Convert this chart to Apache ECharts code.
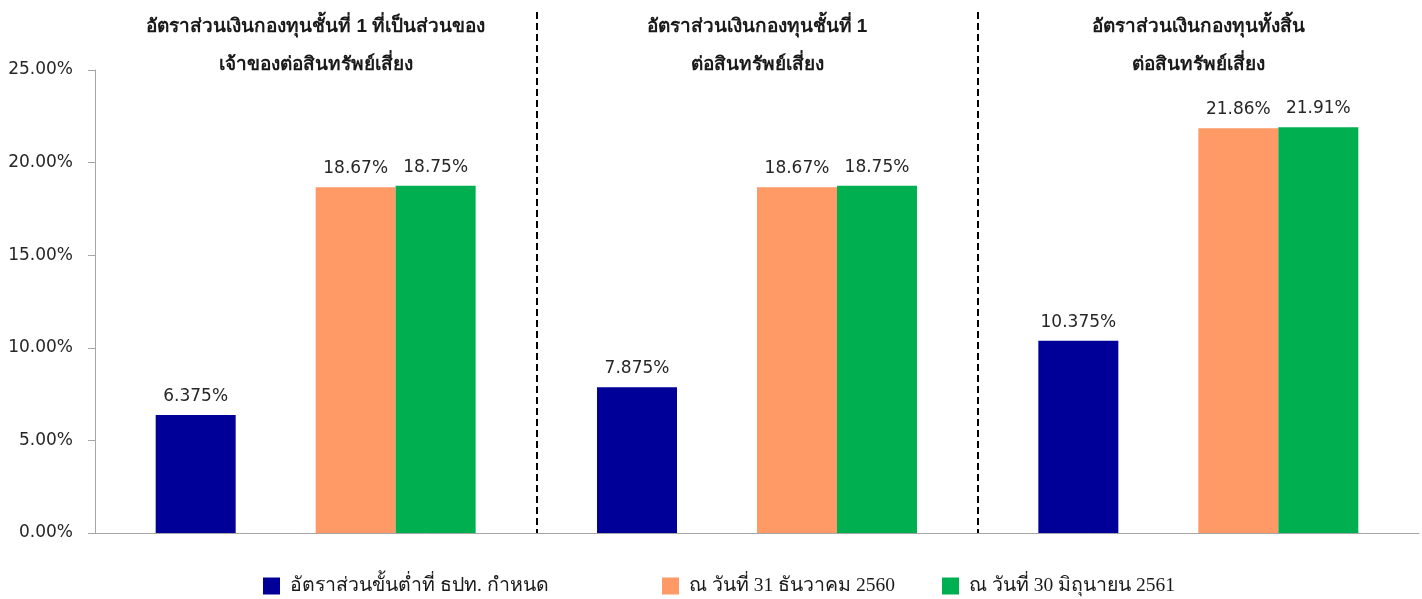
<!DOCTYPE html>
<html>
<head>
<meta charset="utf-8">
<script src="https://cdn.jsdelivr.net/npm/echarts@6/dist/echarts.min.js"></script>
<style>html,body{margin:0;padding:0;background:#fff}#c{width:1422px;height:599px}</style>
</head>
<body>
<div id="c"></div>
<script>
const categories = [
  'อัตราส่วนเงินกองทุนชั้นที่ 1 ที่เป็นส่วนของ\nเจ้าของต่อสินทรัพย์เสี่ยง',
  'อัตราส่วนเงินกองทุนชั้นที่ 1\nต่อสินทรัพย์เสี่ยง',
  'อัตราส่วนเงินกองทุนทั้งสิ้น\nต่อสินทรัพย์เสี่ยง'
];
const seriesNames = ['อัตราส่วนขั้นต่ำที่ ธปท. กำหนด', 'ณ วันที่ 31 ธันวาคม 2560', 'ณ วันที่ 30 มิถุนายน 2561'];
const minimumRatio = [6.375, 7.875, 10.375];
const dec2560 = [18.67, 18.67, 21.86];
const jun2561 = [18.75, 18.75, 21.91];
const yTicks = [0, 5, 10, 15, 20, 25];

const colors = ['#000099', '#FF9966', '#00B050'];
const labelStyle = {
  show: true, position: 'top', distance: 10,
  fontFamily: 'DejaVu Sans', fontSize: 17, color: '#262626',
  formatter: p => p.value + '%'
};

const chart = echarts.init(document.getElementById('c'));
chart.setOption({
  animation: false,
  grid: [
    { left: 95, right: 3, top: 70, bottom: 66 },
    { left: 95, right: 3, top: 12, bottom: 66 },
    { left: 95, right: 3, top: 84, bottom: 66 }
  ],
  xAxis: [
    { type: 'category', gridIndex: 0, data: categories,
      axisLine: { show: true, lineStyle: { color: '#A6A6A6', width: 1 } },
      axisTick: { show: false }, axisLabel: { show: false } },
    { type: 'category', gridIndex: 1, data: categories,
      axisLine: { show: false }, axisTick: { show: false }, axisLabel: { show: false },
      splitLine: { show: true, showMinLine: false, showMaxLine: false,
        lineStyle: { color: '#000', width: 2, type: [7, 4] } } },
    { type: 'category', gridIndex: 2, data: categories, position: 'top',
      axisLine: { show: false }, axisTick: { show: false },
      axisLabel: { show: true, margin: 0, interval: 0, fontWeight: 'bold', fontSize: 19,
        lineHeight: 38, color: '#1a1a1a' } }
  ],
  yAxis: [
    { type: 'value', gridIndex: 0, min: yTicks[0], max: yTicks[yTicks.length - 1], interval: 5,
      axisLine: { show: true, lineStyle: { color: '#A6A6A6' } },
      axisTick: { show: true, length: 7, lineStyle: { color: '#A6A6A6' } },
      splitLine: { show: false },
      axisLabel: { fontFamily: 'DejaVu Sans', fontSize: 17, color: '#262626', margin: 22,
        formatter: v => v.toFixed(2) + '%' } },
    { type: 'value', gridIndex: 1, show: false },
    { type: 'value', gridIndex: 2, show: false }
  ],
  legend: [
    { left: 263, top: 576, data: [seriesNames[0]] },
    { left: 662, top: 576, data: [seriesNames[1]] },
    { left: 942, top: 576, data: [seriesNames[2]] }
  ].map(l => Object.assign(l, { icon: 'rect', itemWidth: 17, itemHeight: 17, itemGap: 10, padding: 0,
      textStyle: { fontSize: 19.5, color: '#1a1a1a', fontFamily: 'Liberation Serif', padding: [0, 0, 0, 5] } })),
  series: [
    { name: seriesNames[0], type: 'bar', data: minimumRatio, barGap: 0, barCategoryGap: '27.5%',
      itemStyle: { color: colors[0] }, label: labelStyle },
    { name: '_gap', type: 'bar', data: [null, null, null], barGap: 0, barCategoryGap: '27.5%' },
    { name: seriesNames[1], type: 'bar', data: dec2560, barGap: 0, barCategoryGap: '27.5%',
      itemStyle: { color: colors[1] }, label: labelStyle },
    { name: seriesNames[2], type: 'bar', data: jun2561, barGap: 0, barCategoryGap: '27.5%',
      itemStyle: { color: colors[2] }, label: labelStyle }
  ]
});
</script>
</body>
</html>
